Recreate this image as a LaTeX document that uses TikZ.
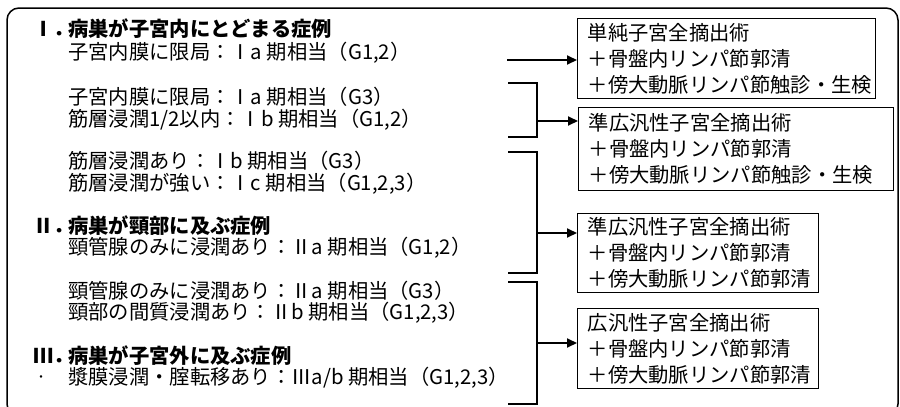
\documentclass[tikz,border=0pt]{standalone}
\usepackage{fontspec}
\setmainfont{Noto Sans CJK JP}
\usetikzlibrary{arrows.meta}
\begin{document}
\begin{tikzpicture}[x=1pt,y=-1pt,
  txt/.style={anchor=west, inner sep=0pt, font=\fontsize{20.3}{24}\selectfont},
  ttl/.style={anchor=west, inner sep=0pt, font=\fontsize{20.3}{24}\selectfont\bfseries},
  box/.style={draw, line width=1.4pt, anchor=north west, align=left, inner xsep=10pt, inner ysep=0pt, font=\fontsize{20.3}{26}\selectfont},
  conn/.style={line width=2pt},
  arr/.style={line width=2pt, -{Triangle[length=10pt,width=9pt]}}]
\useasboundingbox (0,0) rectangle (900,407);
\clip (0,0) rectangle (900,407);
\draw[line width=1.5pt, rounded corners=12pt] (7,8) rectangle (898,416);
% left texts
\node[ttl] (l1) at (33,29) {\makebox[35pt][l]{Ⅰ．}病巣が子宮内にとどまる症例};
\node[txt] (l2) at (68,53) {子宮内膜に限局：Ⅰa 期相当（G1,2）};
\node[txt] (l3) at (68,97) {子宮内膜に限局：Ⅰa 期相当（G3）};
\node[txt] (l4) at (68,120) {筋層浸潤1/2以内：Ⅰb 期相当（G1,2）};
\node[txt] (l5) at (68,161) {筋層浸潤あり：Ⅰb 期相当（G3）};
\node[txt] (l6) at (68,184) {筋層浸潤が強い：Ⅰc 期相当（G1,2,3）};
\node[ttl] (l7) at (33,226) {\makebox[35pt][l]{Ⅱ．}病巣が頸部に及ぶ症例};
\node[txt] (l8) at (68,248) {頸管腺のみに浸潤あり：Ⅱa 期相当（G1,2）};
\node[txt] (l9) at (68,291) {頸管腺のみに浸潤あり：Ⅱa 期相当（G3）};
\node[txt] (l10) at (68,313) {頸部の間質浸潤あり：Ⅱb 期相当（G1,2,3）};
\node[ttl] (l11) at (33,356) {\makebox[35pt][l]{Ⅲ．}病巣が子宮外に及ぶ症例};
\node[txt] (l12) at (68,378) {漿膜浸潤・腟転移あり：Ⅲa/b 期相当（G1,2,3）};
\node[txt, font=\fontsize{12}{12}\selectfont] (dot) at (35,379) {・};
% boxes
\node[box, minimum width=298pt, minimum height=80pt, text width=278pt] (b1) at (577,18)
  {単純子宮全摘出術\\＋骨盤内リンパ節郭清\\＋傍大動脈リンパ節触診・生検};
\node[box, minimum width=315pt, minimum height=83pt, text width=295pt] (b2) at (578,107)
  {準広汎性子宮全摘出術\\＋骨盤内リンパ節郭清\\＋傍大動脈リンパ節触診・生検};
\node[box, minimum width=241pt, minimum height=79pt, text width=221pt] (b3) at (577,213)
  {準広汎性子宮全摘出術\\＋骨盤内リンパ節郭清\\＋傍大動脈リンパ節郭清};
\node[box, minimum width=241pt, minimum height=80pt, text width=221pt] (b4) at (577,308)
  {広汎性子宮全摘出術\\＋骨盤内リンパ節郭清\\＋傍大動脈リンパ節郭清};
% connectors
\coordinate (s1) at (507,60);
\draw[arr] (s1) -- (s1 -| b1.west);
\coordinate (t2) at (508,83); \coordinate (m2) at (537,121); \coordinate (u2) at (508,137);
\draw[conn] (t2) -| (m2) |- (u2);
\draw[arr] (m2) -- (m2 -| b2.west);
\coordinate (t3) at (508,152); \coordinate (m3) at (537,233); \coordinate (u3) at (508,273);
\draw[conn] (t3) -| (m3) |- (u3);
\draw[arr] (m3) -- (m3 -| b3.west);
\coordinate (t4) at (508,282); \coordinate (m4) at (537,343); \coordinate (u4) at (508,404);
\draw[conn] (t4) -| (m4) |- (u4);
\draw[arr] (m4) -- (m4 -| b4.west);
\end{tikzpicture}
\end{document}
